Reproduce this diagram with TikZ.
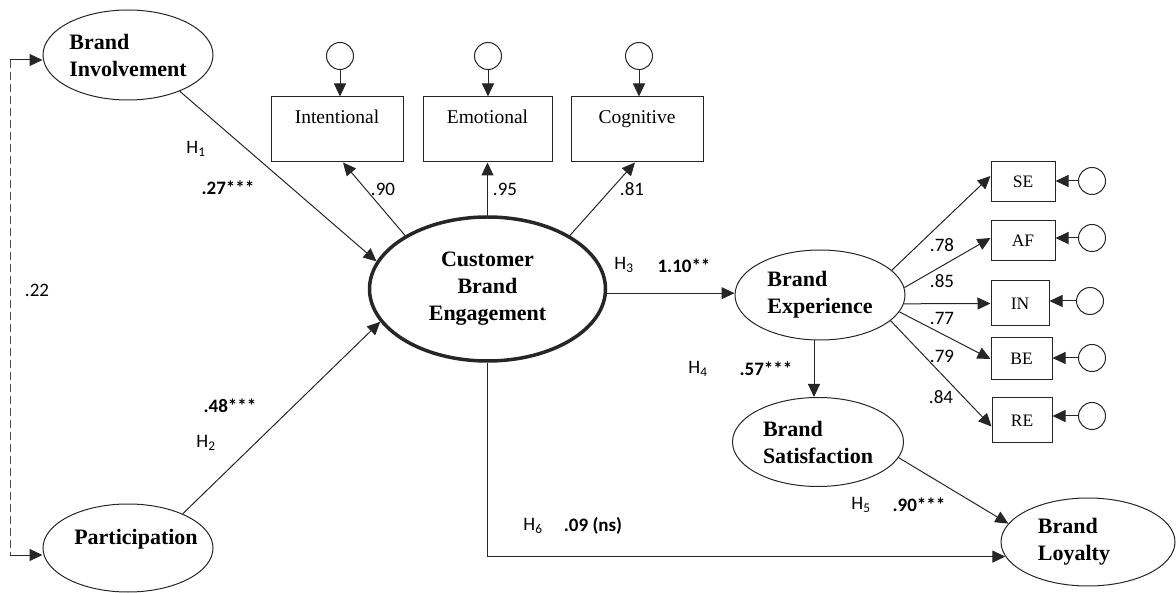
\documentclass[tikz,border=0pt]{standalone}
\usepackage{fontspec}
\setmainfont{Liberation Serif}
\newfontfamily\labfont{Carlito}
\usetikzlibrary{arrows.meta,shapes.geometric}

\begin{document}
\begin{tikzpicture}[x=1pt,y=-1pt,line width=1pt,
  arr/.style={-{Triangle[length=13pt,width=12pt]}, draw=black!85, line width=1pt},
  covline/.style={draw=black!70, line width=1pt, dash pattern=on 8pt off 4pt},
  latent/.style={ellipse, draw=black!85, line width=1pt, inner sep=0pt,
    font=\fontsize{22}{27}\selectfont\bfseries, align=left},
  lvtext/.style={font=\fontsize{22}{27}\selectfont\bfseries, align=left, inner sep=0pt},
  obs/.style={rectangle, draw=black!85, line width=1pt, inner sep=0pt,
    font=\fontsize{17.5}{20}\selectfont},
  dimbox/.style={obs, minimum width=132pt, minimum height=65pt,
    font=\fontsize{19.5}{22}\selectfont, text height=13pt, text depth=24pt},
  err/.style={circle, draw=black!85, line width=1pt, inner sep=0pt, minimum size=27pt},
  hyp/.style={font=\labfont\fontsize{19}{22}\selectfont, inner sep=0pt},
  coef/.style={font=\labfont\bfseries\fontsize{19}{22}\selectfont, inner sep=0pt},
  ld/.style={font=\labfont\fontsize{19}{22}\selectfont, inner sep=0pt}]

\useasboundingbox (0,0) rectangle (1176,593);

% latent constructs
\node[latent, minimum width=170pt, minimum height=90pt] (bi) at (128,55) {Brand\\Involvement};
\node[latent, minimum width=170pt, minimum height=88pt] (pa) at (128,548) {};
\node[lvtext] (pat) at (136,539) {Participation};
\node[latent, line width=3.5pt, align=center, minimum width=236pt, minimum height=144pt] (cbe) at (487.5,289) {Customer\\Brand\\Engagement};
\node[latent, minimum width=170pt, minimum height=90pt] (be) at (820,295) {Brand\\Experience};
\node[latent, minimum width=171pt, minimum height=89pt] (bs) at (818,442) {Brand\\Satisfaction};
\node[latent, minimum width=174pt, minimum height=88pt] (bl) at (1088,542) {};
\node[lvtext] (blt) at (1074,542) {Brand\\Loyalty};

% engagement dimensions
\node[dimbox] (int) at (337,129.5) {Intentional};
\node[dimbox, minimum width=129pt] (emo) at (487.5,129.5) {Emotional};
\node[dimbox] (cog) at (637,129.5) {Cognitive};
\node[err] (e1) at (340,56) {};
\node[err] (e2) at (488,56) {};
\node[err] (e3) at (639,56) {};
\draw[arr] (e1) -- (e1 |- int.north);
\draw[arr] (e2) -- (e2 |- emo.north);
\draw[arr] (e3) -- (e3 |- cog.north);

% experience indicators
\node[obs, minimum width=64pt, minimum height=40pt] (se) at (1023,182) {SE};
\node[obs, minimum width=64pt, minimum height=40pt] (af) at (1023,241) {AF};
\node[obs, minimum width=58pt, minimum height=45pt] (in) at (1020,303.5) {IN};
\node[obs, minimum width=61pt, minimum height=42pt] (bx) at (1021.5,359) {BE};
\node[obs, minimum width=60pt, minimum height=45pt] (re) at (1022,420.5) {RE};
\node[err] (e4) at (1092,181) {};
\node[err] (e5) at (1092,238) {};
\node[err] (e6) at (1090,301) {};
\node[err] (e7) at (1092,358) {};
\node[err] (e8) at (1092,416) {};
\draw[arr] (e4) -- (e4 -| se.east);
\draw[arr] (e5) -- (e5 -| af.east);
\draw[arr] (e6) -- (e6 -| in.east);
\draw[arr] (e7) -- (e7 -| bx.east);
\draw[arr] (e8) -- (e8 -| re.east);

% structural paths
\draw[arr] (bi.-35) -- (cbe.166);
\draw[arr] (pa.32) -- (cbe.197);
\draw[arr] (cbe.147) -- ([xshift=6pt]int.south);
\draw[arr] (cbe.north) -- (emo.south);
\draw[arr] (cbe.33) -- ([xshift=-2pt]cog.south);
\draw[arr] (cbe.-2) -- (cbe.-2 -| be.west);
\draw[arr] ([xshift=-6pt]be.south) -- ([xshift=-6pt]be.south |- bs.north);
\draw[arr] (bs.-11) -- (bl.167);
\draw[arr] (cbe.south) |- (bl.190);
\draw[arr] (be.19) -- ([yshift=6pt]se.west);
\draw[arr] (be.5) -- ([yshift=3pt]af.west);
\draw[arr] (be.-6) -- (in.west);
\draw[arr] (be.-12.7) -- (bx.west);
\draw[arr] (be.-20) -- ([yshift=-6pt]re.west);

% covariance
\coordinate (c1) at (10,60);
\coordinate (c2) at (10,555);
\draw[covline] (c1) -- (c2);
\draw[arr] (c1) -- (c1 -| bi.west);
\draw[arr] (c2) -- (c2 -| pa.west);

% labels
\node[hyp] (h1) at (196,149) {H\textsubscript{1}};
\node[coef] (k1) at (228,188) {.27***};
\node[coef] (k2) at (230,406) {.48***};
\node[hyp] (h2) at (206,443) {H\textsubscript{2}};
\node[ld] (cv) at (37,290) {.22};
\node[ld] (l1) at (383,189) {.90};
\node[ld] (l2) at (505,189) {.95};
\node[ld] (l3) at (632,189) {.81};
\node[hyp] (h3) at (624,265) {H\textsubscript{3}};
\node[coef] (k3) at (684,266) {1.10**};
\node[hyp] (h4) at (698,369) {H\textsubscript{4}};
\node[coef] (k4) at (766,369) {.57***};
\node[hyp] (h5) at (861,505) {H\textsubscript{5}};
\node[coef] (k5) at (919,505) {.90***};
\node[hyp] (h6) at (533,526) {H\textsubscript{6}};
\node[coef] (k6) at (593,526) {.09 (ns)};
\node[ld] (l4) at (942,245) {.78};
\node[ld] (l5) at (942,281) {.85};
\node[ld] (l6) at (942,318) {.77};
\node[ld] (l7) at (942,356) {.79};
\node[ld] (l8) at (941,397) {.84};
\end{tikzpicture}
\end{document}
